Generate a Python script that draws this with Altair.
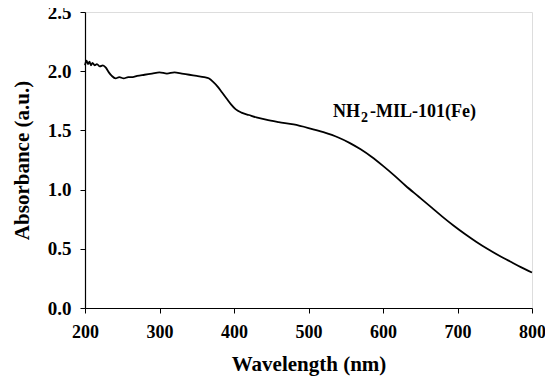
import altair as alt
import pandas as pd

wavelength = [200, 202, 204, 206, 208, 210, 213, 216, 220, 224, 228, 232, 236, 241, 246, 252, 258, 264,
              270, 280, 290, 300, 310, 320, 330, 340, 350, 360, 366, 372, 378, 384, 390, 396, 402, 410,
              420, 430, 443, 460, 480, 500, 520, 540, 555, 570, 585, 600, 615, 630, 648, 665, 680, 695,
              710, 725, 740, 755, 770, 785, 800]
absorbance = [2.05, 2.09, 2.06, 2.08, 2.05, 2.07, 2.05, 2.06, 2.04, 2.05, 2.03, 1.99, 1.96, 1.94, 1.95, 1.94, 1.95, 1.95,
              1.96, 1.97, 1.98, 1.99, 1.98, 1.99, 1.98, 1.97, 1.96, 1.95, 1.94, 1.91, 1.87, 1.82, 1.77, 1.72, 1.68, 1.65,
              1.63, 1.61, 1.59, 1.57, 1.55, 1.52, 1.485, 1.44, 1.395, 1.34, 1.275, 1.20, 1.12, 1.035, 0.94, 0.85, 0.77, 0.695,
              0.625, 0.56, 0.50, 0.445, 0.395, 0.345, 0.30]

x_ticks = [200, 300, 400, 500, 600, 700, 800]
y_ticks = [0, 0.5, 1.0, 1.5, 2.0, 2.5]

df = pd.DataFrame({"w": wavelength, "a": absorbance})

FONT = "Liberation Serif"

common = dict(grid=False, domainColor="black", domainWidth=1.2, tickColor="black", tickSize=5,
              labelFlush=False, labelOverlap=False,
              labelFont=FONT, labelFontWeight="bold", labelColor="black",
              titleFont=FONT, titleFontSize=21, titleFontWeight="bold", titleColor="black")

line = alt.Chart(df).mark_line(color="black", strokeWidth=1.8, interpolate="monotone").encode(
    x=alt.X("w:Q", scale=alt.Scale(domain=[200, 800], nice=False),
            axis=alt.Axis(title="Wavelength (nm)", values=x_ticks, format="d", labelFontSize=18,
                          labelPadding=10, titlePadding=12, **common)),
    y=alt.Y("a:Q", scale=alt.Scale(domain=[0, 2.5], nice=False),
            axis=alt.Axis(title="Absorbance (a.u.)", values=y_ticks, format=".1f", labelFontSize=19,
                          labelPadding=9, titlePadding=15, **common)),
)

ann = pd.DataFrame({"t": ["NH", "2", "-MIL-101(Fe)"], "px": [248, 276, 285], "py": [105, 110, 105],
                    "s": [18, 14, 18]})
text = alt.Chart(ann).mark_text(font=FONT, fontWeight="bold", align="left", baseline="alphabetic",
                                color="black").encode(
    x=alt.X("px:Q", scale=None), y=alt.Y("py:Q", scale=None),
    text="t:N", size=alt.Size("s:Q", scale=None, legend=None),
)

chart = alt.layer(line, text).properties(
    width=447, height=296,
    autosize=alt.AutoSizeParams(type="none"),
    padding={"left": 77, "top": 4, "right": 13, "bottom": 68},
).configure_view(stroke="#888888", strokeWidth=1.5).configure(background="white")

chart.save("out.html", embed_options={"renderer": "svg", "actions": False})
